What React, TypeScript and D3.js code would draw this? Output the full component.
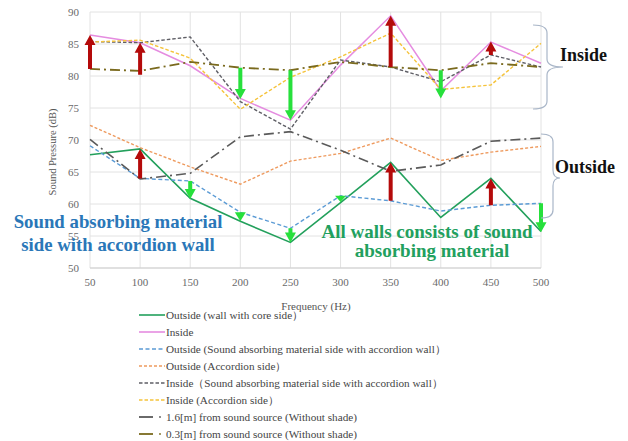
import React from "react";
import * as d3 from "d3";

const freqs = [50, 100, 150, 200, 250, 300, 350, 400, 450, 500];
const outsideCore = [67.7, 68.6, 60.9, 57.3, 54.0, 60.2, 66.5, 57.9, 64.0, 55.7];
const inside = [86.4, 85.2, 81.6, 76.5, 73.1, 81.7, 89.4, 77.7, 85.3, 82.0];
const outsideAbsorb = [69.1, 64.0, 63.6, 58.7, 56.2, 61.3, 60.5, 58.9, 59.8, 60.1];
const outsideAccordion = [72.3, 68.8, 65.8, 63.1, 66.7, 67.9, 70.3, 66.8, 68.1, 69.0];
const insideAbsorb = [85.4, 85.2, 86.1, 76.0, 71.7, 82.5, 81.4, 79.1, 83.3, 81.4];
const insideAccordion = [85.3, 85.6, 82.8, 74.8, 79.8, 83.0, 86.7, 77.9, 78.6, 85.1];
const src16 = [70.1, 63.9, 64.8, 70.5, 71.3, 68.4, 65.1, 66.1, 69.8, 70.3];
const src03 = [81.1, 80.8, 82.2, 81.3, 80.9, 82.2, 81.4, 80.9, 82.0, 81.4];

const yTicks = [50, 55, 60, 65, 70, 75, 80, 85, 90];

const arrowFreq = [50, 100, 100, 350, 350, 450, 450, 200, 250, 400, 150, 200, 250, 300, 500];
const arrowFrom = [81.1, 80.2, 64.0, 81.4, 60.5, 83.3, 59.8, 81.3, 80.9, 80.9, 63.6, 58.7, 56.2, 61.3, 60.1];
const arrowTo = [86.4, 85.2, 68.6, 89.4, 66.5, 85.4, 64.0, 76.4, 73.1, 76.5, 60.8, 57.3, 54.0, 60.3, 55.6];

const seriesNames = [
  "Outside (wall with core side\uFF09",
  "Inside",
  "Outside (Sound absorbing material side with accordion wall\uFF09",
  "Outside (Accordion side\uFF09",
  "Inside\uFF08Sound absorbing material side with accordion wall\uFF09",
  "Inside (Accordion side\uFF09",
  "1.6[m] from sound source (Without shade)",
  "0.3[m] from sound source (Without shade)",
];

const seriesData = [outsideCore, inside, outsideAbsorb, outsideAccordion, insideAbsorb, insideAccordion, src16, src03];
const seriesColor = ["#23a05c", "#e58ce0", "#5b9bd5", "#ee9a5e", "#5f5f66", "#f5c33b", "#5a5a5a", "#7a6a1e"];
const seriesDash = ["", "", "4,2.5", "3,2", "3.5,2", "3.5,2", "10,4,2,4", "10,4,2,4"];
const seriesWidth = [1.6, 1.5, 1.4, 1.4, 1.4, 1.4, 1.6, 1.8];

const FONT = "'Liberation Serif', 'Times New Roman', 'DejaVu Serif', serif";
const fs = (size: number, extra: React.CSSProperties = {}): React.CSSProperties => ({
  fontFamily: FONT,
  fontSize: size,
  ...extra,
});

export default function App() {
  const x = d3.scaleLinear().domain([50, 500]).range([90, 541]);
  const y = d3.scaleLinear().domain([50, 90]).range([268, 12]);
  const line = d3
    .line<number>()
    .x((_, i) => x(freqs[i]))
    .y((d) => y(d));

  const arrowPath = (f: number, a: number, b: number) => {
    const cx = x(f);
    const y0 = y(a);
    const y1 = y(b);
    const dir = y1 < y0 ? -1 : 1;
    const len = Math.abs(y1 - y0);
    const hl = Math.min(10, len);
    const hw = 5.5;
    const sw = 2;
    const yb = y1 - dir * hl;
    if (len <= hl + 0.5) {
      return `M${cx - hw},${y0}L${cx + hw},${y0}L${cx},${y1}Z`;
    }
    return `M${cx - sw},${y0}L${cx - sw},${yb}L${cx - hw},${yb}L${cx},${y1}L${cx + hw},${yb}L${cx + sw},${yb}L${cx + sw},${y0}Z`;
  };

  const brace = (xe: number, xv: number, xt: number, yt: number, ym: number, yb: number) =>
    `M${xe},${yt}Q${xv},${yt} ${xv},${yt + 8}L${xv},${ym - 8}Q${xv},${ym} ${xt},${ym}Q${xv},${ym} ${xv},${ym + 8}L${xv},${yb - 8}Q${xv},${yb} ${xe},${yb}`;

  const bold = (size: number) => fs(size, { fontWeight: "bold" });

  return (
    <svg width={628} height={441} style={{ display: "block", position: "absolute", left: 0, top: 0, background: "#fff" }}>
      <rect x={0} y={0} width={628} height={441} fill="#fff" />
      {yTicks.map((t) => (
        <line key={"gy" + t} x1={90} x2={541} y1={y(t)} y2={y(t)} stroke="#e2e2e2" strokeWidth={1} />
      ))}
      {freqs.map((f) => (
        <line key={"gx" + f} x1={x(f)} x2={x(f)} y1={y(90)} y2={y(50)} stroke="#e2e2e2" strokeWidth={1} />
      ))}
      <line x1={90} x2={541} y1={y(50)} y2={y(50)} stroke="#cfcfcf" strokeWidth={1} />
      {yTicks.map((t) => (
        <text key={"ty" + t} x={79} y={y(t)} dy="0.35em" textAnchor="end" style={fs(11)} fill="#6a6a6a">
          {t}
        </text>
      ))}
      {freqs.map((f) => (
        <text key={"tx" + f} x={x(f)} y={282} dy="0.35em" textAnchor="middle" style={fs(11)} fill="#6a6a6a">
          {f}
        </text>
      ))}
      <text x={316} y={306} dy="0.35em" textAnchor="middle" style={fs(11)} fill="#555">
        Frequency (Hz)
      </text>
      <text transform="translate(52,152) rotate(-90)" textAnchor="middle" dy="0.35em" style={fs(10.5)} fill="#555">
        Sound Pressure (dB)
      </text>
      {seriesData.map((d, i) => (
        <path
          key={"s" + i}
          d={line(d) || ""}
          fill="none"
          stroke={seriesColor[i]}
          strokeWidth={seriesWidth[i]}
          strokeDasharray={seriesDash[i] || undefined}
        />
      ))}
      {arrowFreq.map((f, i) => (
        <path
          key={"a" + i}
          d={arrowPath(f, arrowFrom[i], arrowTo[i])}
          fill={arrowTo[i] > arrowFrom[i] ? "#b40a0a" : "#27e03c"}
        />
      ))}
      <text x={118} y={228} textAnchor="middle" style={bold(18.8)} fill="#2a77b8">
        Sound absorbing material
      </text>
      <text x={118} y={251} textAnchor="middle" style={bold(18.8)} fill="#2a77b8">
        side with accordion wall
      </text>
      <text x={427} y={238} textAnchor="middle" style={bold(19)} fill="#22a05e">
        All walls consists of sound
      </text>
      <text x={432} y={257} textAnchor="middle" style={bold(19)} fill="#22a05e">
        absorbing material
      </text>
      <path d={brace(533, 547, 563, 25, 67, 109)} fill="none" stroke="#a9b6c8" strokeWidth={1.2} />
      <path d={brace(541, 553, 560, 134, 178, 218)} fill="none" stroke="#a9b6c8" strokeWidth={1.2} />
      <text x={560} y={61} style={bold(18)} fill="#111">
        Inside
      </text>
      <text x={555} y={173} style={bold(18)} fill="#111">
        Outside
      </text>
      {seriesNames.map((n, i) => {
        const ly = 315 + i * 17;
        return (
          <g key={"l" + i}>
            {i >= 6 ? (
              <>
                <line x1={139} x2={153} y1={ly} y2={ly} stroke={seriesColor[i]} strokeWidth={1.8} />
                <circle cx={160} cy={ly} r={0.9} fill={seriesColor[i]} />
              </>
            ) : (
              <line
                x1={139}
                x2={165}
                y1={ly}
                y2={ly}
                stroke={seriesColor[i]}
                strokeWidth={1.6}
                strokeDasharray={seriesDash[i] || undefined}
              />
            )}
            <text x={166} y={ly} dy="0.35em" style={fs(11.2)} fill="#444">
              {n}
            </text>
          </g>
        );
      })}
    </svg>
  );
}
